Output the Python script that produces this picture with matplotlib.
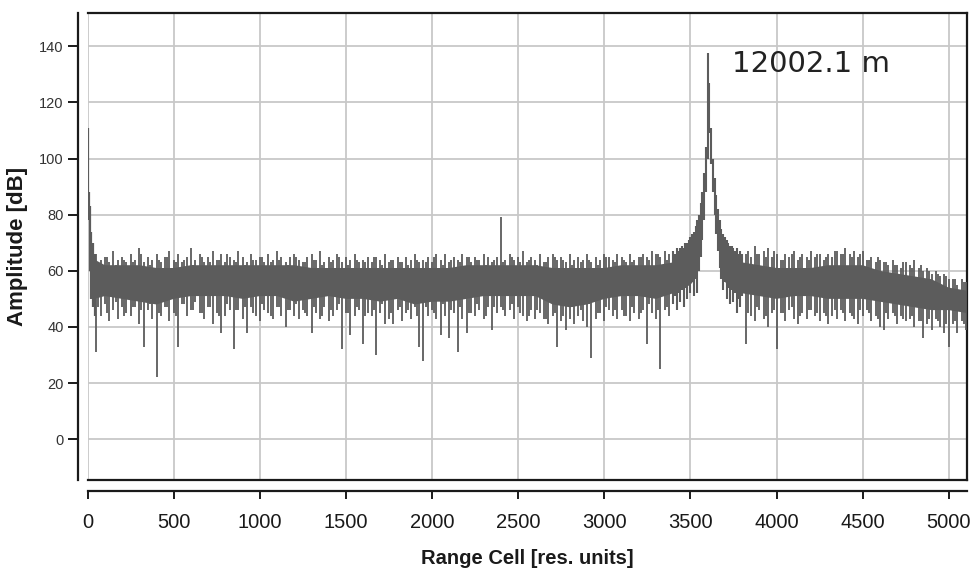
import numpy as np
import matplotlib
matplotlib.use('Agg')
import matplotlib.pyplot as plt

plt.rcParams['font.family'] = ['Liberation Sans', 'DejaVu Sans']

# dense noise band: solid core (lower / upper edge of the filled part)
core_cells = [40, 100, 200, 300, 400, 500, 600, 700, 800, 900, 1000,
              1100, 1200, 1300, 1400, 1500, 1600, 1700, 1800, 1900, 2000,
              2100, 2200, 2300, 2400, 2500, 2600, 2700, 2800, 2900, 3000,
              3100, 3200, 3300, 3400, 3500, 3540, 3600, 3690, 3700,
              3800, 3900, 4000, 4100, 4200, 4300, 4400, 4500, 4600, 4700,
              4800, 4900, 5000, 5100]
core_top = [64, 62, 62, 62, 61, 61, 62, 62, 62, 62, 62,
            62, 62, 61, 61, 61, 61, 61, 61, 61, 61,
            61, 62, 62, 62, 62, 62, 61, 61, 61, 61,
            62, 62, 62, 63, 67, 73, np.nan, 70, 68,
            63, 62, 61, 61, 61, 62, 62, 62, 60, 59,
            58, 57, 54, 53]
core_bot = [50, 51, 50, 49, 48, 50, 51, 51, 51, 50, 51,
            51, 49, 50, 51, 50, 50, 49, 50, 48, 49,
            49, 50, 51, 51, 51, 51, 48, 47, 48, 50,
            51, 51, 50, 52, 55, 58, np.nan, 57, 56,
            52, 51, 50, 51, 51, 50, 50, 50, 49, 48,
            47, 46, 46, 45]

# strong return right at the origin
origin_cells = [0, 5, 12, 20, 30, 40]
origin_hi = [111, 88, 83, 74, 70, 66]
origin_lo = [85, 78, 60, 50, 47, 44]

# spikes, one every 25 cells, left of the target (50 ... 3375)
left_hi = [66, 64, 65, 63, 67, 64, 65, 63,
           66, 64, 68, 63, 65, 64, 66, 63,
           65, 67, 64, 66, 63, 65, 68, 64,
           66, 63, 65, 67, 64, 66, 63, 65,
           64, 67, 65, 63, 66, 64, 65, 63,
           66, 64, 67, 65, 63, 65, 66, 64,
           63, 65, 66, 64, 67, 63, 65, 64,
           66, 63, 65, 64, 66, 63, 64, 65,
           63, 65, 64, 66, 63, 64, 65, 63,
           65, 64, 66, 63, 64, 65, 63, 66,
           64, 66, 63, 65, 64, 66, 65, 63,
           65, 64, 66, 65, 63, 65, 79, 64,
           66, 64, 65, 67, 63, 65, 64, 66,
           63, 65, 66, 64, 65, 63, 66, 64,
           65, 64, 66, 63, 65, 64, 66, 65,
           64, 66, 65, 63, 66, 64, 65, 66,
           65, 67, 66, 65, 67, 66]
left_lo = [31, 44, 48, 42, 46, 43, 47, 45,
           44, 47, 41, 33, 46, 43, 22, 44,
           47, 42, 45, 33, 48, 44, 46, 49,
           45, 43, 47, 41, 45, 38, 44, 46,
           32, 46, 43, 38, 47, 44, 42, 46,
           45, 43, 47, 44, 40, 46, 44, 43,
           46, 44, 38, 45, 43, 47, 42, 44,
           46, 32, 45, 37, 44, 46, 34, 45,
           44, 30, 45, 41, 43, 41, 46, 42,
           45, 43, 47, 33, 28, 44, 46, 43,
           37, 44, 36, 45, 31, 43, 38, 45,
           44, 46, 43, 47, 39, 45, 47, 44,
           46, 43, 47, 44, 42, 46, 43, 45,
           43, 41, 44, 33, 42, 39, 43, 41,
           44, 42, 40, 29, 43, 45, 42, 46,
           44, 43, 46, 44, 42, 45, 43, 46,
           34, 45, 43, 25, 46, 44]

# shorter spikes in between, one every 50 cells (62 ... 3362)
mid_left_hi = [63, 65, 62, 64, 63, 66, 62, 64, 65, 63,
               64, 62, 65, 63, 64, 66, 63, 62, 64, 65,
               63, 64, 62, 65, 63, 64, 62, 63, 65, 62,
               64, 63, 65, 62, 64, 63, 62, 64, 63, 65,
               62, 64, 63, 65, 64, 62, 64, 63, 65, 63,
               64, 62, 63, 65, 64, 62, 63, 64, 62, 65,
               63, 64, 63, 65, 64, 66, 64]
mid_left_lo = [47, 45, 49, 44, 47, 46, 48, 45, 47, 44,
               48, 46, 45, 47, 44, 48, 46, 47, 45, 48,
               44, 47, 46, 48, 45, 47, 44, 46, 48, 45,
               47, 44, 46, 48, 45, 47, 46, 44, 47, 45,
               48, 46, 47, 45, 48, 44, 47, 46, 48, 45,
               44, 46, 43, 45, 44, 47, 46, 48, 45, 47,
               46, 44, 47, 45, 48, 46, 47]

# target peak, one every 10 cells (3400 ... 3800)
peak_hi = [67, 66, 68, 67, 68, 69, 68, 70, 70, 71,
           72, 73, 74, 76, 78, 80, 84, 88, 95, 104,
           137.5, 127, 111, 100, 93, 87, 82, 78, 75, 73,
           72, 71, 70, 69, 69, 68, 67, 68, 66, 67, 66]
peak_lo = [48, 51, 46, 52, 49, 53, 47, 54, 50, 55,
           52, 56, 51, 57, 52, 60, 65, 71, 78, 88,
           100, 109, 98, 88, 80, 73, 67, 61, 57, 53,
           56, 50, 54, 48, 53, 49, 52, 45, 50, 47, 51]

# spikes, one every 25 cells, right of the target (3825 ... 5100)
right_hi = [66, 65, 69, 66, 67, 68, 65, 66,
            64, 66, 65, 67, 64, 66, 65, 67,
            65, 66, 64, 66, 65, 67, 66, 68,
            66, 67, 65, 67, 64, 65, 63, 64,
            63, 62, 64, 62, 61, 63, 62, 64,
            61, 60, 61, 59, 60, 58, 59, 57,
            57, 55, 57, 56]
right_lo = [34, 44, 42, 46, 43, 40, 45, 32,
            45, 42, 46, 43, 41, 45, 43, 46,
            44, 42, 45, 41, 44, 43, 46, 42,
            45, 43, 41, 44, 46, 42, 44, 40,
            39, 43, 45, 41, 44, 42, 43, 40,
            42, 36, 41, 39, 43, 40, 38, 33,
            41, 38, 42, 39]

# shorter spikes in between (3837 ... 5087)
mid_right_hi = [67, 66, 65, 67, 64, 66, 65, 64, 66, 65, 67, 66, 65,
                66, 64, 65, 63, 62, 63, 61, 62, 60, 59, 58, 57, 56]
mid_right_lo = [45, 47, 44, 46, 45, 47, 44, 46, 45, 44, 46, 45, 44,
                46, 45, 43, 45, 44, 43, 44, 42, 43, 42, 41, 42, 41]

x_ticks = [0, 500, 1000, 1500, 2000, 2500, 3000, 3500, 4000, 4500, 5000]
y_ticks = [0, 20, 40, 60, 80, 100, 120, 140]
peak_label = '12002.1 m'

trace = '#5c5c5c'

fig = plt.figure(figsize=(9.74, 5.72), dpi=100)
ax = fig.add_axes([0.090, 0.161, 0.9028, 0.816])

ax.fill_between(core_cells, core_bot, core_top, color=trace, lw=0, zorder=3)
ax.vlines(origin_cells, origin_lo, origin_hi, color=trace, lw=1.6, zorder=3)
ax.vlines(np.arange(50, 3400, 25), left_lo, left_hi, color=trace, lw=1.3, zorder=3)
ax.vlines(np.arange(62, 3400, 50), mid_left_lo, mid_left_hi, color=trace, lw=1.3, zorder=3)
ax.vlines(np.arange(3400, 3801, 10), peak_lo, peak_hi, color=trace, lw=1.5, zorder=3)
ax.vlines(np.arange(3825, 5101, 25), right_lo, right_hi, color=trace, lw=1.3, zorder=3)
ax.vlines(np.arange(3837, 5101, 50), mid_right_lo, mid_right_hi, color=trace, lw=1.3, zorder=3)

ax.text(3742, 130.8, peak_label, family='DejaVu Sans', fontsize=21,
        color='#222222', ha='left', va='baseline')

ax.set_xlim(0, 5106)
ax.set_ylim(-14.5, 151.8)
ax.set_xticks(x_ticks)
ax.set_yticks(y_ticks)
ax.grid(True, color='#c8c8c8', lw=1.3, zorder=0)
ax.set_axisbelow(True)

for side in ['top', 'right', 'left', 'bottom']:
    ax.spines[side].set_linewidth(1.6)
    ax.spines[side].set_color('#1a1a1a')
ax.spines['left'].set_position(('outward', 7.2))
ax.spines['bottom'].set_position(('outward', 8.0))
# closing line of the plot box above the offset x axis
ax.plot([0, 1], [0, 0], transform=ax.transAxes, color='#1a1a1a', lw=1.6,
        clip_on=False, zorder=5)

ax.tick_params(axis='y', length=7, width=1.4, pad=3, labelsize=10.5,
               labelcolor='#333333', color='#1a1a1a')
ax.tick_params(axis='x', length=6, width=1.4, pad=10, labelsize=14.5,
               labelcolor='#1a1a1a', color='#1a1a1a')

ax.set_xlabel('Range Cell [res. units]', fontsize=14.5, fontweight='bold',
              color='#1a1a1a', labelpad=12)
ax.set_ylabel('Amplitude [dB]', fontsize=16, fontweight='bold',
              color='#1a1a1a', labelpad=8)

fig.savefig('out.png', dpi=100)
